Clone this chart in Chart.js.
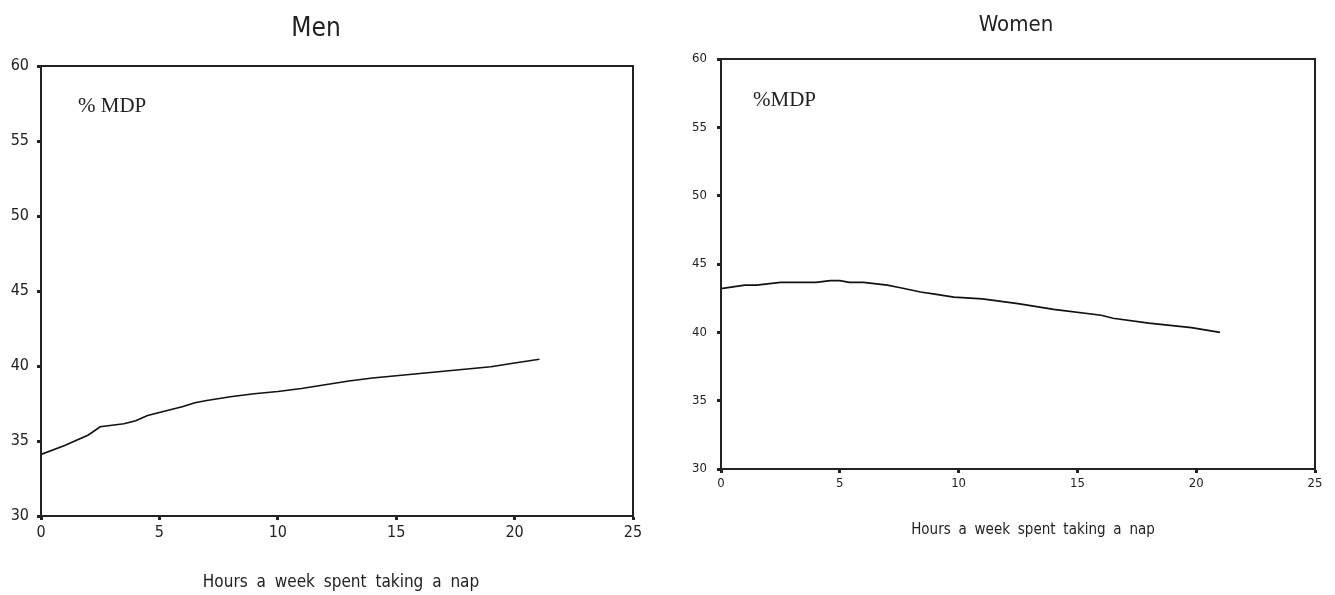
<!DOCTYPE html>
<html>
<head>
<meta charset="utf-8">
<script src="https://cdn.jsdelivr.net/npm/chart.js@4.4.1/dist/chart.umd.min.js"></script>
<style>
  body { margin: 0; background: #fff; width: 1335px; height: 595px; position: relative; overflow: hidden; }
  .panel { position: absolute; top: 0; height: 595px; }
</style>
</head>
<body>
<div class="panel" style="left:0;width:660px"><canvas id="men-chart"></canvas></div>
<div class="panel" style="left:665px;width:670px"><canvas id="women-chart"></canvas></div>
<script>
"use strict";

// values (hours a week napping -> % MDP)
const menHours = [0, 1, 2, 2.5, 3.5, 4, 4.5, 5, 6, 6.5, 7, 8, 9, 10, 11, 12, 13, 14, 15, 16, 17, 18, 19, 20, 21.05];
const menMdp = [34.1, 34.7, 35.4, 35.95, 36.15, 36.35, 36.7, 36.9, 37.3, 37.55, 37.7, 37.95, 38.15, 38.3, 38.5, 38.75, 39.0, 39.2, 39.35, 39.5, 39.65, 39.8, 39.95, 40.2, 40.45];

const womenHours = [0, 1, 1.5, 2.5, 4, 4.6, 5, 5.4, 6, 7, 7.5, 8.4, 9, 9.8, 11, 12.5, 14, 16, 16.5, 18, 19.8, 21];
const womenMdp = [43.2, 43.45, 43.45, 43.65, 43.65, 43.78, 43.78, 43.65, 43.65, 43.45, 43.28, 42.95, 42.8, 42.58, 42.45, 42.1, 41.68, 41.25, 41.03, 40.68, 40.35, 40.0];

const xTicks = [0, 5, 10, 15, 20, 25];
const yTicks = [30, 35, 40, 45, 50, 55, 60];

const xTitle = "Hours a week spent taking a nap";
const seriesLabel = "% MDP";

const NARROW = '"Liberation Sans Narrow", "DejaVu Sans Condensed", sans-serif';
const SERIF = '"Liberation Serif", "DejaVu Serif", serif';

// texts drawn on top of the chart at fixed spots
function labelsPlugin(look) {
  return {
    id: "labels",
    afterDraw(chart) {
      const ctx = chart.ctx;
      const a = chart.chartArea;
      ctx.save();
      // frame round the plot
      ctx.strokeStyle = "#222";
      ctx.lineWidth = 2;
      ctx.strokeRect(a.left, a.top, a.right - a.left, a.bottom - a.top);

      ctx.fillStyle = "#222";
      ctx.textBaseline = "alphabetic";
      ctx.textAlign = "center";
      ctx.font = look.titleSize + "px " + NARROW;
      ctx.fillText(look.title, look.titleX, look.titleY);

      ctx.font = look.xTitleSize + "px " + NARROW;
      ctx.wordSpacing = look.wordSpacing + "px";
      ctx.fillText(xTitle, look.xTitleX, look.xTitleY);
      ctx.wordSpacing = "0px";

      ctx.textAlign = "left";
      ctx.font = look.seriesSize + "px " + SERIF;
      ctx.fillText(look.seriesText, look.seriesX, look.seriesY);
      ctx.restore();
    }
  };
}

function renderChart(canvasId, hours, mdp, look) {
  const ctx = document.getElementById(canvasId).getContext("2d");
  const points = hours.map((h, i) => ({ x: h, y: mdp[i] }));
  const tickGrid = {
    display: true,
    drawOnChartArea: false,
    drawTicks: true,
    tickLength: 4,
    tickWidth: 3,
    tickColor: "#222"
  };
  return new Chart(ctx, {
    type: "line",
    data: {
      datasets: [{
        label: seriesLabel,
        data: points,
        borderColor: "#111",
        borderWidth: 1.7,
        pointRadius: 0,
        tension: 0,
        fill: false
      }]
    },
    options: {
      responsive: true,
      maintainAspectRatio: false,
      animation: false,
      layout: { padding: look.padding },
      plugins: { legend: { display: false }, title: { display: false }, tooltip: { enabled: false } },
      scales: {
        x: {
          type: "linear",
          min: xTicks[0],
          max: xTicks[xTicks.length - 1],
          afterBuildTicks: (s) => { s.ticks = xTicks.map(v => ({ value: v })); },
          afterFit: (s) => { s.height = 30; },
          grid: tickGrid,
          border: { display: true, color: "#222", width: 2 },
          ticks: { color: "#222", padding: 3, maxRotation: 0, font: { family: NARROW, size: look.tickSize } }
        },
        y: {
          min: yTicks[0],
          max: yTicks[yTicks.length - 1],
          afterBuildTicks: (s) => { s.ticks = yTicks.map(v => ({ value: v })); },
          afterFit: (s) => { s.width = look.yWidth; },
          grid: tickGrid,
          border: { display: true, color: "#222", width: 2 },
          ticks: { color: "#222", padding: look.yPad, font: { family: NARROW, size: look.tickSize } }
        }
      }
    },
    plugins: [labelsPlugin(look)]
  });
}

// Men chart (left)
const menChart = renderChart("men-chart", menHours, menMdp, {
  padding: { left: 0, top: 66, right: 27, bottom: 595 - 516 - 30 },
  yWidth: 41,
  yPad: 8,
  tickSize: 16,
  title: "Men", titleSize: 26, titleX: 316, titleY: 36,
  xTitleSize: 17, wordSpacing: 4, xTitleX: 341, xTitleY: 587,
  seriesText: "% MDP", seriesSize: 21, seriesX: 78, seriesY: 112
});

// Women chart (right)
const womenChart = renderChart("women-chart", womenHours, womenMdp, {
  padding: { left: 0, top: 59, right: 670 - 650, bottom: 595 - 469 - 30 },
  yWidth: 56,
  yPad: 10,
  tickSize: 13,
  title: "Women", titleSize: 22, titleX: 351, titleY: 31,
  xTitleSize: 15, wordSpacing: 3.5, xTitleX: 368, xTitleY: 534,
  seriesText: "%MDP", seriesSize: 21, seriesX: 88, seriesY: 106
});
</script>
</body>
</html>
